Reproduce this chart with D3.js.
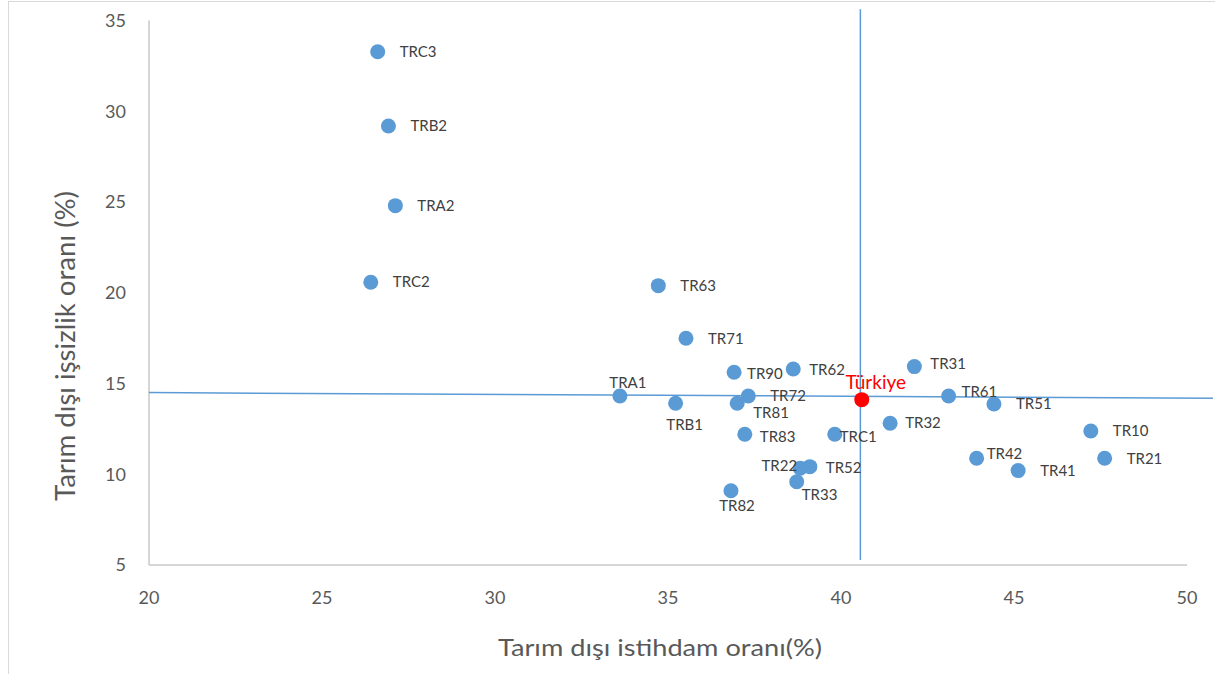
<!DOCTYPE html>
<html lang="tr">
  <head>
    <meta charset="UTF-8" />
    <title>Tarım dışı istihdam ve işsizlik</title>
    <script src="https://d3js.org/d3.v7.min.js"></script>
    <style>
      body { margin: 0; background: #fff; }
      svg { display: block; font-family: Lato, "Open Sans", sans-serif; }
    </style>
  </head>
  <body>
    <div id="chart"></div>
    <script>
      // Veriler
      const regions = ["TRC3", "TRB2", "TRA2", "TRC2", "TR63", "TR71", "TR90", "TR62", "TR31",
        "TRA1", "TRB1", "TR72", "TR81", "TR61", "TR51", "TR32", "TR83", "TRC1", "TR10",
        "TR42", "TR21", "TR41", "TR22", "TR52", "TR33", "TR82"];
      const employment = [26.61, 26.92, 27.12, 26.41, 34.72, 35.52, 36.91, 38.62, 42.12,
        33.61, 35.22, 37.32, 37.0, 43.11, 44.42, 41.42, 37.22, 39.82, 47.22,
        43.92, 47.62, 45.12, 38.82, 39.1, 38.72, 36.82];
      const unemployment = [33.28, 29.19, 24.8, 20.58, 20.39, 17.49, 15.62, 15.8, 15.93,
        14.31, 13.91, 14.31, 13.91, 14.31, 13.87, 12.81, 12.2, 12.2, 12.38,
        10.88, 10.88, 10.2, 10.33, 10.42, 9.59, 9.09];

      const turkiye = { name: "Türkiye", x: 40.6, y: 14.11 };

      // Ortalama çizgileri (uç noktalar)
      const hLineX = [20, 50.75];
      const hLineY = [14.5, 14.19];
      const vLineX = [40.56, 40.56];
      const vLineY = [35.62, 5.28];

      const xTicks = [20, 25, 30, 35, 40, 45, 50];
      const yTicks = [5, 10, 15, 20, 25, 30, 35];

      // Etiket yerleşimi (nokta merkezine göre kaydırma)
      const labelOffset = {
        TR90: [13, 2], TR62: [16, 1], TR31: [16, -3], TR61: [13, -4],
        TR81: [16, 9], TR83: [15, 2], TRC1: [5, 2], TR52: [16, 1],
        TR42: [10, -5], TR32: [15, 0], TR33: [5, 13]
      };
      const labelCentered = { TRA1: [8, -13], TRB1: [9, 21], TR82: [6, 15] };
      const labelLeft = { TR22: [-3, -3] };

      const width = 1215, height = 674;
      const svg = d3.select("#chart").append("svg")
        .attr("width", width).attr("height", height);

      // dış çerçeve
      svg.append("rect")
        .attr("x", 8.5).attr("y", 1.5)
        .attr("width", 1300).attr("height", 700)
        .attr("fill", "none").attr("stroke", "#d9d9d9");

      const x = d3.scaleLinear().domain([20, 50]).range([149, 1187]);
      const y = d3.scaleLinear().domain([5, 35]).range([565, 20.5]);

      // eksenler
      svg.append("line")
        .attr("x1", x(20)).attr("x2", x(20))
        .attr("y1", y(35)).attr("y2", y(5))
        .attr("stroke", "#c8c8c8").attr("stroke-width", 1.5);
      svg.append("line")
        .attr("x1", x(20)).attr("x2", x(50))
        .attr("y1", y(5)).attr("y2", y(5))
        .attr("stroke", "#c8c8c8").attr("stroke-width", 1.5);

      svg.selectAll(".xtick").data(xTicks).join("text")
        .attr("x", (d) => x(d)).attr("y", 604)
        .attr("text-anchor", "middle")
        .attr("fill", "#595959").style("font-size", "18px")
        .text((d) => d);

      svg.selectAll(".ytick").data(yTicks).join("text")
        .attr("x", 126).attr("y", (d) => y(d))
        .attr("dy", "0.35em")
        .attr("text-anchor", "end")
        .attr("fill", "#595959").style("font-size", "18px")
        .text((d) => d);

      // eksen başlıkları
      svg.append("text")
        .attr("x", 660).attr("y", 656)
        .attr("text-anchor", "middle")
        .attr("fill", "#595959").style("font-size", "24px")
        .attr("textLength", 324).attr("lengthAdjust", "spacingAndGlyphs")
        .text("Tarım dışı istihdam oranı(%)");

      svg.append("text")
        .attr("transform", "translate(75,346) rotate(-90)")
        .attr("text-anchor", "middle")
        .attr("fill", "#595959").style("font-size", "27px")
        .attr("textLength", 310).attr("lengthAdjust", "spacingAndGlyphs")
        .text("Tarım dışı işsizlik oranı (%)");

      // referans çizgileri
      const lineColor = "#5b9bd5";
      svg.append("line")
        .attr("x1", x(hLineX[0])).attr("x2", x(hLineX[1]))
        .attr("y1", y(hLineY[0])).attr("y2", y(hLineY[1]))
        .attr("stroke", lineColor).attr("stroke-width", 1.5);
      svg.append("line")
        .attr("x1", x(vLineX[0])).attr("x2", x(vLineX[1]))
        .attr("y1", y(vLineY[0])).attr("y2", y(vLineY[1]))
        .attr("stroke", lineColor).attr("stroke-width", 1.5);

      const points = regions.map((name, i) => ({ name, x: employment[i], y: unemployment[i] }));

      svg.selectAll(".dot").data(points).join("circle")
        .attr("cx", (d) => x(d.x)).attr("cy", (d) => y(d.y))
        .attr("r", 7.5).attr("fill", "#5b9bd5");

      svg.selectAll(".lbl").data(points).join("text")
        .attr("x", (d) => {
          const o = labelCentered[d.name] || labelLeft[d.name] || labelOffset[d.name] || [22, 0];
          return x(d.x) + o[0];
        })
        .attr("y", (d) => {
          const o = labelCentered[d.name] || labelLeft[d.name] || labelOffset[d.name] || [22, 0];
          return y(d.y) + o[1];
        })
        .attr("dy", "0.35em")
        .attr("text-anchor", (d) => labelCentered[d.name] ? "middle" : labelLeft[d.name] ? "end" : "start")
        .attr("fill", "#404040").style("font-size", "15px")
        .text((d) => d.name);

      svg.append("circle")
        .attr("cx", x(turkiye.x)).attr("cy", y(turkiye.y))
        .attr("r", 7.5).attr("fill", "#ff0000");
      svg.append("text")
        .attr("x", x(turkiye.x) + 14).attr("y", y(turkiye.y) - 17)
        .attr("dy", "0.35em").attr("text-anchor", "middle")
        .attr("fill", "#ff0000").style("font-size", "19px")
        .text(turkiye.name);
    </script>
  </body>
</html>
